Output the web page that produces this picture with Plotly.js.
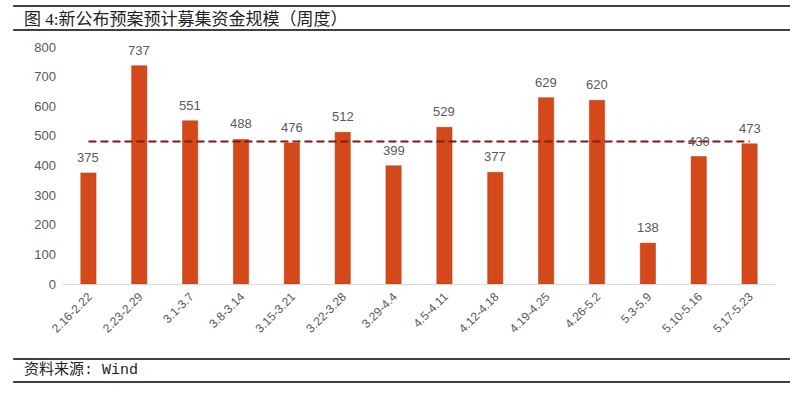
<!DOCTYPE html>
<html>
<head>
<meta charset="utf-8">
<script src="https://cdn.plot.ly/plotly-3.0.1.min.js"></script>
<style>
html,body{margin:0;padding:0;background:#fff;}
#chart{width:800px;height:394px;}
</style>
</head>
<body>
<div id="chart"></div>
<script>
const weeks = ["2.16-2.22","2.23-2.29","3.1-3.7","3.8-3.14","3.15-3.21","3.22-3.28","3.29-4.4","4.5-4.11","4.12-4.18","4.19-4.25","4.26-5.2","5.3-5.9","5.10-5.16","5.17-5.23"];
const amounts = [375,737,551,488,476,512,399,529,377,629,620,138,430,473];
const averageLine = [481,481,481,481,481,481,481,481,481,481,481,481,481,481];
const yTicks = [0,100,200,300,400,500,600,700,800];
const titleText = "图 4:新公布预案预计募集资金规模（周度）";
const sourceText = "资料来源: Wind";

const barColor = "#D4491A";
const lineColor = "#7E1A12";
const labelFont = {family: "Liberation Sans, Arial, sans-serif", size: 13, color: "#595959"};

const traces = [
  {
    type: "bar",
    x: weeks,
    y: amounts,
    marker: {color: barColor, line: {color: "#B83A10", width: 0.5}},
    hoverinfo: "x+y",
    showlegend: false
  },
  {
    type: "scatter",
    mode: "lines",
    x: weeks,
    y: averageLine,
    line: {color: lineColor, width: 2, dash: "8px,4px"},
    hoverinfo: "y",
    showlegend: false
  }
];

const annotations = weeks.map((w, i) => ({
  x: w, y: amounts[i], xref: "x", yref: "y",
  text: String(amounts[i]), showarrow: false,
  yanchor: "bottom", yshift: 6,
  font: labelFont
}));

annotations.push({
  xref: "paper", yref: "paper", x: -0.058, y: 1.118,
  xanchor: "left", yanchor: "middle", showarrow: false,
  text: titleText,
  font: {family: "Liberation Serif, Noto Sans CJK SC, serif", size: 17, color: "#222"}
});
annotations.push({
  xref: "paper", yref: "paper", x: -0.058, y: -0.363,
  xanchor: "left", yanchor: "middle", showarrow: false,
  text: sourceText,
  font: {family: "Liberation Mono, Noto Sans CJK SC, monospace", size: 15, color: "#222"}
});

const hLine = (y) => ({
  type: "line", xref: "paper", yref: "paper",
  x0: -0.07, x1: 1.021, y0: y, y1: y,
  line: {color: "#000", width: 1.5}
});

const layout = {
  width: 800, height: 394,
  margin: {l: 63, r: 25, t: 47, b: 110},
  paper_bgcolor: "#fff", plot_bgcolor: "#fff",
  bargap: 0.7,
  xaxis: {
    type: "category",
    tickangle: -45,
    tickfont: {family: "Liberation Sans, Arial, sans-serif", size: 12, color: "#595959"},
    showline: true, linecolor: "#D9D9D9", linewidth: 1,
    ticks: "", showgrid: false, zeroline: false
  },
  yaxis: {
    range: [0, 800],
    tickvals: yTicks,
    ticktext: yTicks.map(String),
    tickfont: {family: "Liberation Sans, Arial, sans-serif", size: 13, color: "#595959"},
    showgrid: false, zeroline: false, showline: false, ticks: "",
    ticklabelstandoff: 6
  },
  annotations: annotations,
  shapes: [hLine(1.173), hLine(1.072), hLine(-0.316), hLine(-0.414)]
};

Plotly.newPlot("chart", traces, layout, {displayModeBar: false, staticPlot: true});
</script>
</body>
</html>
